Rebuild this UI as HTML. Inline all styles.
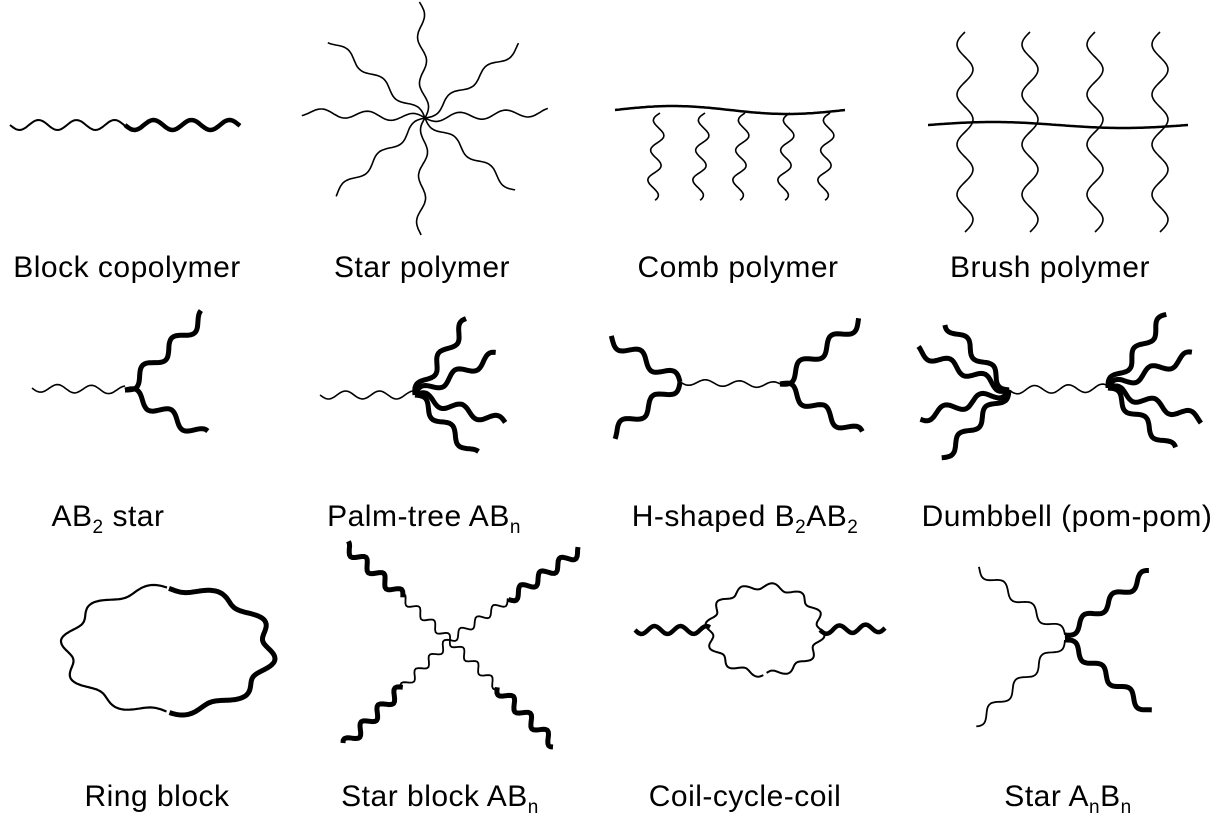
<!DOCTYPE html>
<html><head><meta charset="utf-8"><style>
html,body{margin:0;padding:0;background:#fff;}
#c{position:absolute;left:0;top:0;}
.l{position:absolute;font-family:"Liberation Sans",Arial,sans-serif;font-size:30px;line-height:34px;color:#000;white-space:nowrap;transform:translateX(-50%);letter-spacing:0.5px;}
sub{font-size:19px;vertical-align:-7px;line-height:0;}
</style></head><body>
<svg id="c" width="1226" height="823" xmlns="http://www.w3.org/2000/svg"></svg>
<div class="l" style="left:127px;top:251px">Block copolymer</div>
<div class="l" style="left:422px;top:251px">Star polymer</div>
<div class="l" style="left:738px;top:251px">Comb polymer</div>
<div class="l" style="left:1050px;top:251px">Brush polymer</div>
<div class="l" style="left:108px;top:500px">AB<sub>2</sub> star</div>
<div class="l" style="left:424px;top:500px">Palm-tree AB<sub>n</sub></div>
<div class="l" style="left:745px;top:500px">H-shaped B<sub>2</sub>AB<sub>2</sub></div>
<div class="l" style="left:1067px;top:500px">Dumbbell (pom-pom)</div>
<div class="l" style="left:157px;top:780px">Ring block</div>
<div class="l" style="left:440px;top:780px">Star block AB<sub>n</sub></div>
<div class="l" style="left:745px;top:780px">Coil-cycle-coil</div>
<div class="l" style="left:1068px;top:780px">Star A<sub>n</sub>B<sub>n</sub></div>
<script>
var svg=document.getElementById('c');
function add(d,w){var p=document.createElementNS('http://www.w3.org/2000/svg','path');p.setAttribute('d',d);p.setAttribute('fill','none');p.setAttribute('stroke','#000');p.setAttribute('stroke-width',w);p.setAttribute('stroke-linecap','butt');p.setAttribute('stroke-linejoin','round');svg.appendChild(p);}
function wave(x1,y1,x2,y2,a,wl,w,ph){ph=ph||0;var dx=x2-x1,dy=y2-y1,L=Math.hypot(dx,dy),ux=dx/L,uy=dy/L,nx=-uy,ny=ux,n=Math.max(20,Math.round(L/2)),d='';
for(var i=0;i<=n;i++){var t=i/n*L,o=a*Math.sin(2*Math.PI*t/wl+ph);var x=x1+ux*t+nx*o,y=y1+uy*t+ny*o;d+=(i?'L':'M')+x.toFixed(1)+' '+y.toFixed(1);}add(d,w);}
function ring(cx,cy,rx,ry,a,k,t0,t1,w){var d='',n=200;for(var i=0;i<=n;i++){var t=t0+(t1-t0)*i/n;var f=1+a*Math.sin(k*t);var x=cx+rx*f*Math.cos(t),y=cy+ry*f*Math.sin(t);d+=(i?'L':'M')+x.toFixed(1)+' '+y.toFixed(1);}add(d,w);}
wave(10,125,125,125,5,38,2);
wave(125,125,240,125,5,38,4.5,0);
var c=[425,118];[[420,2],[520,45],[548,112],[515,190],[420,235],[335,195],[302,112],[330,40]].forEach(function(e){wave(c[0],c[1],e[0],e[1],4,46,1.6);});
wave(615,110,845,110,4,230,2.5,Math.PI);
[660,705,745,790,830].forEach(function(x){wave(x,113,x-8,200,6,30,1.6);});
wave(928,125,1188,125,3,260,2.5,Math.PI);
[965,1030,1095,1160].forEach(function(x){wave(x,32,x,232,8,50,1.6);});
wave(32,388,125,390,4,34,1.6);
wave(125,390,205,315,6,40,5);wave(125,390,205,436,6,40,5,Math.PI);
wave(320,395,415,395,4,34,1.6);
[[468,320],[497,355],[505,423],[475,455]].forEach(function(e,i){wave(415,395,e[0],e[1],5,38,5,Math.PI);});
wave(680,382,780,385,3,34,1.6);
wave(680,382,610,338,6,40,5);wave(680,382,612,435,6,40,5,Math.PI);
wave(780,384,860,320,6,40,5);wave(780,384,860,435,6,40,5,Math.PI);
wave(1009,390,1108,388,4,34,1.6);
[[947,323],[917,350],[920,418],[942,458]].forEach(function(e,i){wave(1009,390,e[0],e[1],5,38,5,Math.PI);});
[[1167,315],[1193,355],[1202,420],[1173,450]].forEach(function(e,i){wave(1108,388,e[0],e[1],5,38,5,Math.PI);});
ring(168,650,102,62,0.06,10,Math.PI/2+0.015,1.5*Math.PI-0.01,2.2);
ring(168,650,102,62,0.06,10,-Math.PI/2+0.01,Math.PI/2-0.015,5);
[[345,545],[580,550],[345,745],[555,745]].forEach(function(e){var mx=450+(e[0]-450)*0.45,my=640+(e[1]-640)*0.45;wave(450,640,mx,my,4,20,1.8);wave(mx,my,e[0],e[1],5,24,5);});
wave(635,630,710,630,4,26,4.5);
ring(765,630,56,44,0.07,12,Math.PI/2+0.03,2.5*Math.PI-0.03,2);
wave(820,630,885,628,4,26,4.5);
wave(1065,635,978,568,5,36,1.8);wave(1065,640,975,725,5,36,1.8,Math.PI);
wave(1065,635,1150,572,5,36,5);wave(1065,640,1150,712,5,36,5,Math.PI);
</script>
</body></html>
